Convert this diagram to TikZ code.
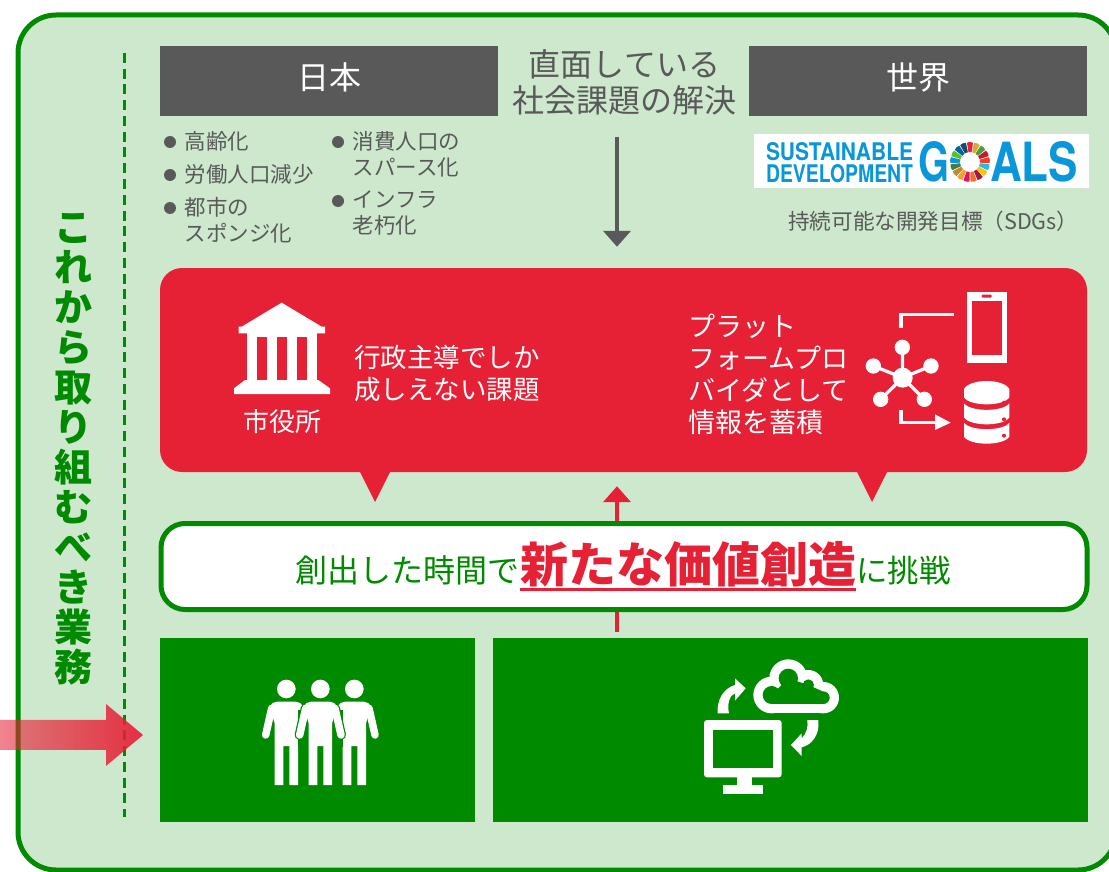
\documentclass[tikz,border=0pt]{standalone}
\usepackage{fontspec}
\setmainfont{Noto Sans CJK JP}
\newfontfamily\sdgfont{TeX Gyre Heros}
\usetikzlibrary{positioning,arrows.meta,fadings}
\definecolor{framegreen}{HTML}{008A00}
\definecolor{palegreen}{HTML}{CEE8CE}
\definecolor{panelred}{HTML}{E62035}
\definecolor{darkgray}{HTML}{595959}
\definecolor{sdgblue}{HTML}{0A97D9}
\newcommand{\pxfont}[2]{\fontsize{#1pt}{#2pt}\selectfont}
\tikzfading[name=arrowfade,left color=transparent!45,right color=transparent!8]
\tikzset{
  headbox/.style={fill=darkgray,text=white,minimum height=70pt,text height=22pt,
        text depth=4pt,minimum width=338pt,inner sep=0pt,font=\pxfont{32}{32}},
  graytext/.style={text=darkgray,inner sep=0pt,align=left,font=\pxfont{21.5}{26}},
  paneltext/.style={text=white,inner sep=0pt,align=left,font=\pxfont{26.5}{32}},
  greenbox/.style={fill=framegreen,minimum height=184pt,inner sep=0pt},
  listdot/.style={circle,fill=darkgray,minimum size=12pt,inner sep=0pt},
  sdgtext/.style={text=sdgblue,inner sep=0pt,font=\sdgfont\bfseries}}
\newcommand{\person}[2][white]{%
  %% arms, then body, then legs
  \draw[line width=7.5pt,line cap=round,#1] (#2-44,145)--(#2-62,225)
        (#2+44,145)--(#2+62,225);
  \fill[#1] (#2-50,140) to[out=70,in=180] (#2,125) to[out=0,in=110] (#2+50,140)
        --(#2+35,190)--(#2+35,375)--(#2+9,375)--(#2+9,258)--(#2-9,258)
        --(#2-9,375)--(#2-35,375)--(#2-35,190)--cycle;}
\newcommand{\dbdisk}[4]{%
  \fill[white] (312,#1)..controls (330,#3)and(430,#3)..(448,#1)
        --(448,#2)..controls (430,#2+28)and(330,#2+28)..(312,#2)--cycle;
  \fill[panelred] (432,#4) circle (6);}
\begin{document}
\begin{tikzpicture}[x=1pt,y=-1pt]
  \useasboundingbox (0,0) rectangle (1109,872);
  \clip (0,0) rectangle (1109,872);
  %% frame and dashed rule
  \draw[framegreen,fill=palegreen,line width=5pt,rounded corners=38pt]
       (18,15) rectangle (1116,870);
  \draw[framegreen,line width=3pt,dash pattern=on 10pt off 5.75pt]
       (124,53)--(124,817);
  \node[text=framegreen,inner sep=0pt,align=center,font=\pxfont{38}{40}\bfseries]
       (sidetitle) at (73,449) {こ\\れ\\か\\ら\\取\\り\\組\\む\\べ\\き\\業\\務};
  %% upper row
  \node[headbox] (japan) at (329,81) {日本};
  \node[headbox] (world) at (918,81) {世界};
  \node[text=darkgray,inner sep=0pt,align=center,font=\pxfont{32}{36}]
       (solve) at (624.5,82) {直面している\\社会課題の解決};
  %% list
  \foreach \name/\px/\py/\label in {aging/170/142/高齢化,labor/170/175/労働人口減少,
      sponge/170/208/{都市の\\スポンジ化},spend/338/142/{消費人口の\\スパース化},
      infra/338/201/{インフラ\\老朽化}}{
    \node[listdot] (\name dot) at (\px,\py) {};
    \node[graytext,anchor=north west] (\name) at (\px+14.5,\py-10.5) {\label};
  }
  %% logo
  \node[fill=white,minimum width=335pt,minimum height=54pt,inner sep=0pt]
       (logo) at (921.5,161) {};
  \node[sdgtext] (sdgupper) at (839.5,152) {\resizebox{147pt}{18pt}{SUSTAINABLE}};
  \node[sdgtext] (sdglower) at (839.5,173.5) {\resizebox{147pt}{18pt}{DEVELOPMENT}};
  \node[sdgtext] (sdgg) at (933.5,162) {\resizebox{31pt}{40pt}{G}};
  \node[sdgtext] (sdgals) at (1034,162) {\resizebox{88pt}{40pt}{ALS}};
  \begin{scope}[shift={(970,162)}]
    \foreach \hex [count=\i,evaluate=\i as \a using -90+(\i-1)*360/17] in
        {E5243B,DDA63A,4C9F38,C5192D,FF3A21,26BDE2,FCC30B,A21942,FD6925,
         DD1367,FD9D24,BF8B2E,3F7E44,0A97D9,56C02B,00689D,19486A}{
      \definecolor{ringtone}{HTML}{\hex}
      \fill[ringtone] (\a-9:19.5)--(\a:20)--(\a+9:19.5)--(\a+9:10)--(\a-9:10)--cycle;
    }
  \end{scope}
  \node[graytext,anchor=west,font=\pxfont{21.6}{24}] (sdgcaption) at (788,221)
       {持続可能な開発目標（SDGs）};
  %% red panel
  \node[fill=panelred,rounded corners=22pt,minimum width=927pt,minimum height=204pt,
        inner sep=0pt] (redpanel) at (623.5,370) {};
  \coordinate (solvefoot) at (617,137);
  \draw[darkgray,line width=4pt,-{Triangle[width=27pt,length=16pt]},shorten >=21pt]
       (solvefoot)--(redpanel.north -| solvefoot);
  \fill[panelred] (360,472)--(390,472)--(375,502)--cycle;
  \fill[panelred] (857,472)--(887,472)--(872,502)--cycle;
  %% city hall
  \begin{scope}[shift={(220,290)},scale=1/3]
    \fill[white] (185,38)--(305,110)--(315,110)--(315,130)--(56,130)--(56,110)
        --(65,110)--cycle;
    \fill[white] (80,130) rectangle (292,272);
    \fill[white] (75,270)--(295,270)--(330,295)--(330,312)--(42,312)--(42,295)--cycle;
    \foreach \slot in {110,170,231}
      \fill[panelred] (\slot,140) rectangle (\slot+31,270);
  \end{scope}
  \node[paneltext,font=\pxfont{26}{30}] (cityhall) at (282,422) {市役所};
  \node[paneltext,anchor=west] (policy) at (354,373) {行政主導でしか\\成しえない課題};
  \node[paneltext,anchor=west,font=\pxfont{27}{32}] (platform) at (688.5,374)
       {プラット\\フォームプロ\\バイダとして\\情報を蓄積};
  %% platform icon
  \begin{scope}[shift={(860,280)},scale=1/3]
    \fill[white] (322,36) rectangle (440,250);
    \fill[panelred] (336,64) rectangle (427,225);
    \fill[panelred,rounded corners=1pt] (365,44) rectangle (395,53);
    \draw[white,line width=3.3pt] (283,103)--(123,103)--(123,143);
    \draw[white,line width=3.3pt] (123,390)--(123,428)--(230,428);
    \fill[white] (225,403)--(272,428)--(225,450)--cycle;
    \foreach \hx/\hy in {127/202,40/258,213/258,62/358,193/358}{
      \draw[white,line width=3.3pt] (128,293)--(\hx,\hy);
      \fill[white] (\hx,\hy) circle (23);
    }
    \fill[white] (128,293) circle (30);
    \dbdisk{327}{352}{295}{368}
    \dbdisk{370}{412}{396}{418}
    \dbdisk{428}{470}{454}{467}
  \end{scope}
  %% lower row
  \node[greenbox,minimum width=315pt] (greenleft) at (317.5,730) {};
  \node[greenbox,minimum width=595pt] (greenright) at (790.5,730) {};
  \coordinate (risefoot) at (617,632);
  \draw[panelred,line width=4pt,-{Triangle[width=27pt,length=16pt]},
        shorten <=6pt,shorten >=14pt]
       (greenright.north -| risefoot)--(redpanel.south -| risefoot);
  %% white bar
  \node[draw=framegreen,fill=white,line width=5pt,rounded corners=24pt,
        minimum width=926pt,minimum height=86pt,inner sep=0pt]
       (valuebar) at (624,566.5) {};
  \node[text=framegreen,inner sep=0pt,anchor=base west,font=\pxfont{32}{32}]
       (valuefirst) at (295,582) {創出した時間で};
  \node[text=panelred,inner sep=0pt,base right=1pt of valuefirst,
        font=\pxfont{48}{48}\bfseries] (valuemain) {新たな価値創造};
  \node[text=framegreen,inner sep=0pt,base right=-1pt of valuemain,
        font=\pxfont{31.5}{32}] (valuelast) {に挑戦};
  \draw[panelred,line width=3pt] (520,589)--(856,589);
  %% people icon
  \begin{scope}[shift={(240,660)},scale=1/3]
    \foreach \cx in {139,343}{
      \person{\cx}
      \fill[white] (\cx,87) circle (28);
    }
    \fill[white] (241,87) circle (28);
    \fill[framegreen] (174,150) rectangle (308,262);
    \draw[framegreen,line width=10pt,line cap=round] (197,145)--(179,225)
        (285,145)--(303,225);
    \person{241}
  \end{scope}
  %% cloud icon
  \begin{scope}[shift={(680,650)},scale=1/3]
    \foreach \bx/\by/\br in {275/135/55,325/85/57,385/105/45,430/143/47}
      \fill[white] (\bx,\by) circle (\br);
    \fill[white] (275,120) rectangle (430,190);
    \fill[framegreen] (275,125) rectangle (430,162);
    \foreach \bx/\by/\br in {275/135/27,325/85/29,385/105/17,430/143/19}
      \fill[framegreen] (\bx,\by) circle (\br);
    \fill[framegreen] (275,135)--(325,85)--(385,105)--(430,125)--cycle;
    \fill[white] (113,190)..controls (110,150)and(130,115)..(165,105)
        --(165,85)--(197,115)--(165,152)--(165,130)
        ..controls (150,135)and(140,160)..(147,190)--cycle;
    \fill[white] (415,210)..controls (420,255)and(395,285)..(365,292)
        --(365,318)--(333,285)--(365,250)--(365,265)
        ..controls (380,250)and(385,230)..(382,210)--cycle;
    \fill[white,rounded corners=3pt] (72,210) rectangle (305,382);
    \fill[framegreen] (100,240) rectangle (280,355);
    \fill[white] (170,380) rectangle (215,405);
    \fill[white] (130,405) rectangle (248,432);
  \end{scope}
  %% incoming arrow
  \fill[panelred,path fading=arrowfade] (0,720)--(106,720)--(106,704)--(143,735)
        --(106,766)--(106,750)--(0,750)--cycle;
\end{tikzpicture}
\end{document}
